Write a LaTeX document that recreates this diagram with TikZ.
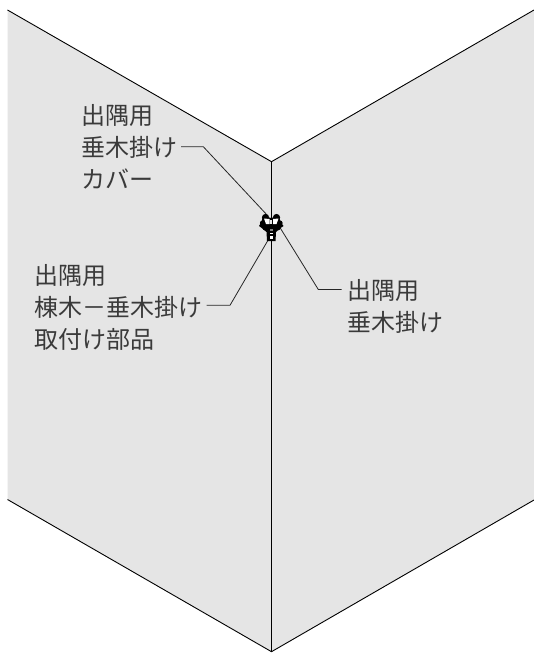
\documentclass[tikz,border=0pt]{standalone}
\usepackage{fontspec}
\newfontfamily\jpfont{Noto Sans CJK JP}
\definecolor{wallgray}{HTML}{E5E5E5}
\definecolor{labeltext}{HTML}{3A3A3A}
\tikzset{
  wall/.style={fill=wallgray,draw=none},
  edgeline/.style={draw=black,line width=0.9pt,line join=miter},
  leader/.style={draw=black!85,line width=0.8pt},
  lab/.style={font=\jpfont\fontsize{24}{32}\selectfont,text=labeltext,align=left,anchor=west,inner sep=0pt},
  partblack/.style={fill=black,draw=none},
  partwhite/.style={fill=white,draw=none},
}
\begin{document}
\begin{tikzpicture}[x=1pt,y=-1pt]
\useasboundingbox (0,0) rectangle (534,655);
\fill[white] (0,0) rectangle (534,655);
% walls
\coordinate (tl) at (7.5,10);
\coordinate (tc) at (271.5,161.7);
\coordinate (tr) at (534,10);
\coordinate (bl) at (7.5,499.5);
\coordinate (bc) at (271.5,651.7);
\coordinate (br) at (534,500);
\fill[wall] (tl) -- (tc) -- (bc) -- (bl) -- cycle;
\fill[wall] (tc) -- (tr) -- (br) -- (bc) -- cycle;
\draw[edgeline] (tl) -- (tc) -- (tr);
\draw[edgeline] (bl) -- (bc) -- (br);
\draw[edgeline] (tc) -- (bc);
% labels
\node[lab] (cover) at (81,147) {出隅用\\垂木掛け\\カバー};
\node[lab] (mount) at (34,307) {出隅用\\棟木－垂木掛け\\取付け部品};
\node[lab] (hanger) at (347,306) {出隅用\\垂木掛け};
% connector ends
\coordinate (c0) at (181,146.7);
\coordinate (c1) at (203.3,146.7);
\coordinate (c2) at (268,216);
\coordinate (m0) at (206.7,305.3);
\coordinate (m1) at (230,305.3);
\coordinate (m2) at (269.3,238);
\coordinate (h0) at (341.7,289.5);
\coordinate (h1) at (318.3,289.5);
\coordinate (h2) at (279,226);
\draw[leader] (c0) -- (c1) -- (c2);
\draw[leader] (m0) -- (m1) -- (m2);
\draw[leader] (h0) -- (h1) -- (h2);
% fitting
\fill[partblack] (259,226) -- (261.5,222) -- (263,216) -- (271,218) -- (279,216) -- (280.5,222) -- (283.5,226) -- (279,229) -- (276,232) -- (275.5,241) -- (267,241) -- (266.5,232) -- (263,229) -- cycle;
\fill[partblack] (265.5,217.5) circle (3.6);
\fill[partblack] (276.5,217.5) circle (3.6);
\fill[partblack] (262.5,223) circle (2.6);
\fill[partblack] (280,223) circle (2.6);
\fill[partblack] (265,228) circle (2.4);
\fill[partblack] (278,228) circle (2.4);
\fill[partwhite] (264,218.5) -- (269.5,219) -- (269.5,224) -- (266,224) -- cycle;
\fill[partwhite] (278.5,218.5) -- (273,219) -- (273,224) -- (276.5,224) -- cycle;
\fill[wallgray] (270.2,219.5) rectangle (272.3,223.5);
\fill[gray] (269.5,229) rectangle (272.5,230.5);
\fill[white] (269.5,232.5) rectangle (272.5,234);
\fill[white] (269.5,236) rectangle (272.5,238.5);
\end{tikzpicture}
\end{document}
